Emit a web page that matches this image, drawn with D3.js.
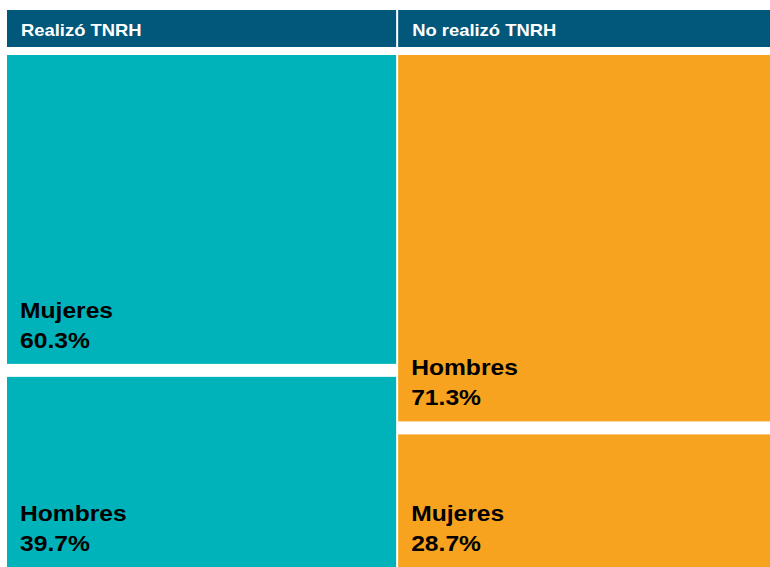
<html>
<head>
  <meta charset="utf-8" />
  <script src="https://cdnjs.cloudflare.com/ajax/libs/d3/7.8.5/d3.min.js"></script>
  <style>
    body { margin: 0; background: #fff; }
    svg { display: block; }
    text { font-family: "Liberation Sans", Arial, sans-serif; font-weight: bold; }
  </style>
</head>
<body>
  <svg></svg>
  <script>
  // column headers and estimated width share of each column
  var columns = ["Realizó TNRH", "No realizó TNRH"];
  var columnShare = [51, 49];

  // cells per column, top to bottom
  var realizoLabels = ["Mujeres", "Hombres"];
  var realizoValues = [60.3, 39.7];
  var noRealizoLabels = ["Hombres", "Mujeres"];
  var noRealizoValues = [71.3, 28.7];

  var colColors = ["#00b2b9", "#f7a31f"];
  var headerColor = "#02587a";

  var W = 770, H = 567;
  var svg = d3.select("svg").attr("width", W).attr("height", H);

  var xScale = d3.scaleLinear().domain([0, 100]).range([7, 772]);
  var yScale = d3.scaleLinear().domain([0, 100]).range([55, 578]);
  var xGap = 1, yGap = 6.5;

  var cells = [
    { labels: realizoLabels, values: realizoValues },
    { labels: noRealizoLabels, values: noRealizoValues }
  ];

  var start = 0;
  columns.forEach(function (name, i) {
    var cx0 = xScale(start) + (i > 0 ? xGap : 0);
    var cx1 = xScale(start + columnShare[i]) - xGap;
    start += columnShare[i];

    svg.append("rect")
      .attr("x", cx0).attr("y", 10)
      .attr("width", cx1 - cx0).attr("height", 37)
      .attr("fill", headerColor);
    svg.append("text")
      .attr("transform", "translate(" + (cx0 + 14) + ",36) scale(1.15,1)")
      .attr("fill", "#fff")
      .attr("font-size", 16)
      .text(name);

    var acc = 0;
    var col = cells[i];
    col.values.forEach(function (v, j) {
      var y0 = yScale(acc) + (j > 0 ? yGap : 0);
      acc += v;
      var y1 = yScale(acc) - (j < col.values.length - 1 ? yGap : 0);
      svg.append("rect")
        .attr("x", cx0).attr("y", y0)
        .attr("width", cx1 - cx0).attr("height", y1 - y0)
        .attr("fill", colColors[i]);

      var base = Math.min(y1, H) - 46;
      var lbl = svg.append("text")
        .attr("transform", "translate(" + (cx0 + 13) + "," + base + ") scale(1.12,1)")
        .attr("fill", "#000")
        .attr("font-size", 22);
      lbl.append("tspan").attr("x", 0).attr("y", 0).text(col.labels[j]);
      lbl.append("tspan").attr("x", 0).attr("y", 30).text(d3.format(".1f")(v) + "%");
    });
  });
  </script>
</body>
</html>
